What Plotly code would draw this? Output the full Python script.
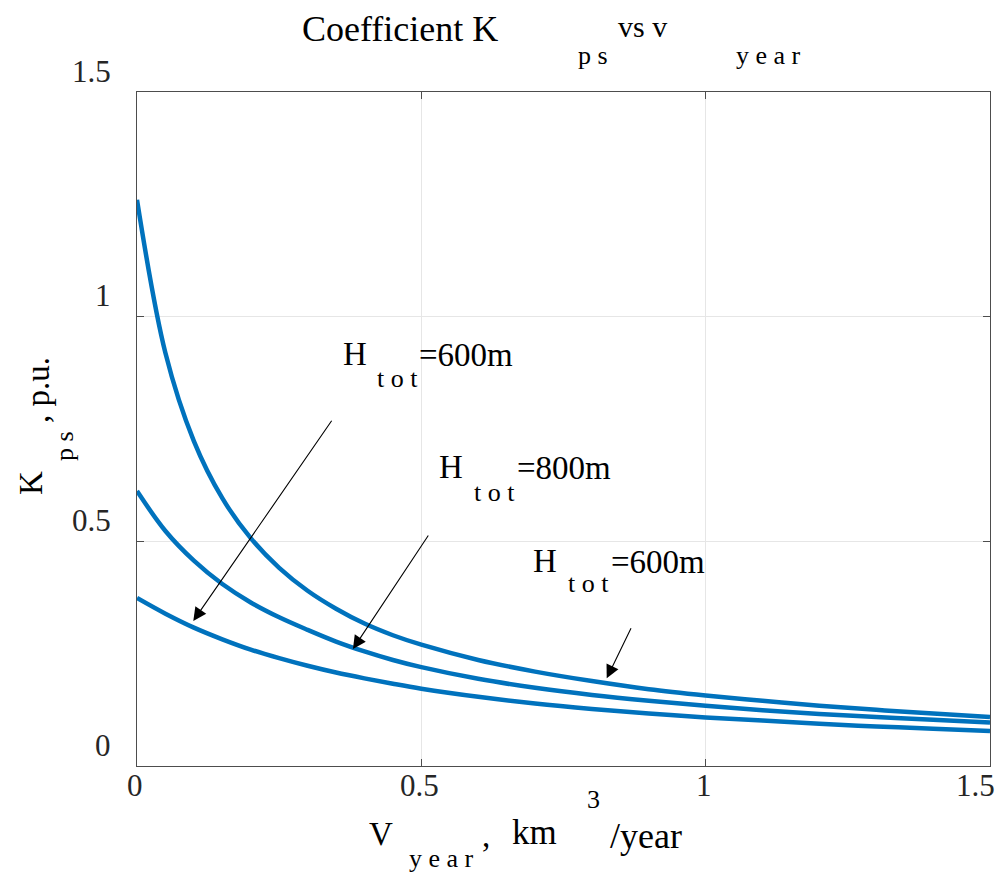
import plotly.graph_objects as go

# ---------------- data ----------------
v_year = [0, 0.05, 0.1, 0.15, 0.2, 0.25, 0.3, 0.35, 0.4, 0.45, 0.5,
          0.6, 0.7, 0.8, 0.9, 1.0, 1.1, 1.2, 1.3, 1.4, 1.5]
k_top = [1.26, 0.919, 0.723, 0.596, 0.507, 0.441, 0.390, 0.350, 0.317, 0.291, 0.270,
         0.236, 0.210, 0.189, 0.171, 0.157, 0.145, 0.134, 0.125, 0.117, 0.109]
k_mid = [0.612, 0.523, 0.457, 0.405, 0.364, 0.331, 0.303, 0.277, 0.255, 0.236, 0.220,
         0.194, 0.174, 0.158, 0.145, 0.134, 0.124, 0.116, 0.109, 0.103, 0.097]
k_bot = [0.374, 0.339, 0.308, 0.282, 0.259, 0.240, 0.223, 0.208, 0.195, 0.183, 0.172,
         0.154, 0.139, 0.127, 0.117, 0.108, 0.101, 0.094, 0.088, 0.083, 0.078]

x_ticks = [0, 0.5, 1, 1.5]
x_tick_labels = ["0", "0.5", "1", "1.5"]
y_ticks = [0, 0.5, 1, 1.5]
y_tick_labels = ["0", "0.5", "1", "1.5"]

# curve labels: (H position, sub position, value position, value text)
labels = [
    ((0.3825, 0.917), (0.458, 0.8625), (0.5794, 0.9147), "=600m"),
    ((0.5513, 0.6644), (0.6295, 0.6087), (0.750, 0.6633), "=800m"),
    ((0.7183, 0.4563), (0.7948, 0.4051), (0.917, 0.454), "=600m"),
]
# arrows: (tail x, tail y, head x, head y)
arrows = [
    (0.3441, 0.7716, 0.0990, 0.3228),
    (0.514, 0.5164, 0.3798, 0.2604),
    (0.870, 0.310, 0.826, 0.1952),
]

FONT = "Liberation Serif"
BLUE = "#0072BD"
PAGE_OFF = 8                      # default body margin of the html page
W, H = 1004 - PAGE_OFF, 876 - PAGE_OFF
L, R, T, B = 137 - PAGE_OFF, 14, 92 - PAGE_OFF, 110


def px2paper(px, py):
    """page pixel -> paper coordinates"""
    fx, fy = px - PAGE_OFF, py - PAGE_OFF
    return (fx - L) / (W - L - R), (H - B - fy) / (H - T - B)


fig = go.Figure()
for ys in (k_top, k_mid, k_bot):
    fig.add_trace(go.Scatter(x=v_year, y=ys, mode="lines",
                             line=dict(color=BLUE, width=4.5, shape="spline", smoothing=1.0),
                             showlegend=False, hoverinfo="skip"))

ann = []
# y tick labels, shifted upward as in the reference
for v, t in zip(y_ticks, y_tick_labels):
    ann.append(dict(x=0, xref="paper", y=v, yref="y", text=t, showarrow=False,
                    xanchor="right", yanchor="middle", xshift=-24, yshift=21,
                    font=dict(family=FONT, size=31, color="#262626")))
# x tick labels (last one kept inside the page)
for i, (v, t) in enumerate(zip(x_ticks, x_tick_labels)):
    last = i == len(x_ticks) - 1
    ann.append(dict(x=v, xref="x", y=0, yref="paper", text=t, showarrow=False,
                    xanchor="right" if last else "center", yanchor="middle",
                    xshift=7 if last else -2, yshift=-19,
                    font=dict(family=FONT, size=31, color="#262626")))

# curve labels
for (hp, sp, vp, vt) in labels:
    ann.append(dict(x=hp[0], y=hp[1], xref="x", yref="y", text="H", showarrow=False,
                    font=dict(family=FONT, size=33, color="black")))
    ann.append(dict(x=sp[0], y=sp[1], xref="x", yref="y", text="t o t", showarrow=False,
                    font=dict(family=FONT, size=26, color="black")))
    ann.append(dict(x=vp[0], y=vp[1], xref="x", yref="y", text=vt, showarrow=False,
                    font=dict(family=FONT, size=33, color="black")))

for (tx, ty, hx, hy) in arrows:
    ann.append(dict(x=hx, y=hy, ax=tx, ay=ty, xref="x", yref="y", axref="x", ayref="y",
                    text="", showarrow=True, arrowhead=2, arrowsize=2.4, arrowwidth=1.1,
                    arrowcolor="black", standoff=0))


def ptext(px, py, text, size, angle=0):
    x, y = px2paper(px, py)
    return dict(x=x, y=y, xref="paper", yref="paper", text=text, showarrow=False,
                xanchor="center", yanchor="middle", textangle=angle,
                font=dict(family=FONT, size=size, color="black"))


# title pieces
ann += [
    ptext(400, 29, "Coefficient K", 36),
    ptext(593, 55, "p s", 26),
    ptext(642, 26, "vs v", 30),
    ptext(768, 55, "y e a r", 26),
]
# x-axis title pieces
ann += [
    ptext(381, 834, "V", 33),
    ptext(441, 858, "y e a r", 26),
    ptext(486, 836, ",", 33),
    ptext(534, 832, "km", 35),
    ptext(593, 799, "3", 26),
    ptext(646, 836, "/year", 36),
]
# y-axis title pieces
ann += [
    ptext(31, 483, "K", 33, -90),
    ptext(64, 446, "p s", 26, -90),
    ptext(38, 390, ", p.u.", 33, -90),
]

axis_common = dict(showline=True, linecolor="#4d4d4d", linewidth=1.3, mirror="ticks",
                   ticks="inside", ticklen=7, tickcolor="#4d4d4d", tickwidth=1.3,
                   showgrid=True, gridcolor="#e6e6e6", gridwidth=1, zeroline=False,
                   automargin=False, showticklabels=False)

fig.update_layout(
    width=W, height=H,
    margin=dict(l=L, r=R, t=T, b=B, autoexpand=False),
    plot_bgcolor="white", paper_bgcolor="white",
    xaxis=dict(range=[0, 1.5], tickvals=x_ticks, **axis_common),
    yaxis=dict(range=[0, 1.5], tickvals=y_ticks, **axis_common),
    annotations=ann,
)

fig.write_html("out.html")
